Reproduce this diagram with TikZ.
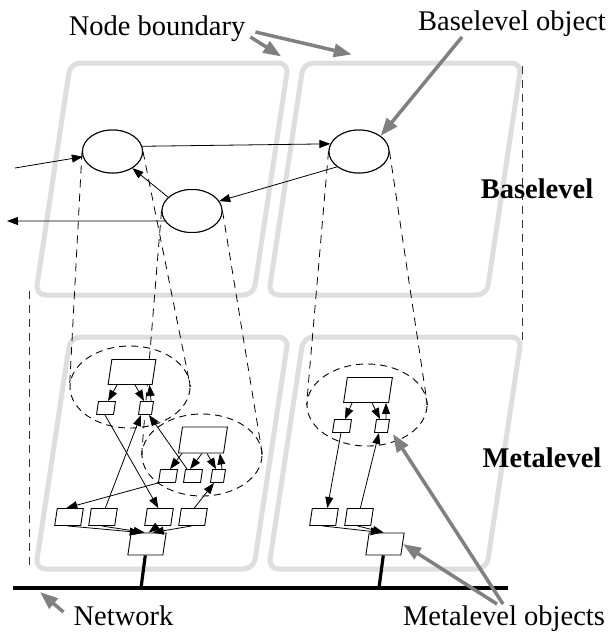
\documentclass[tikz,border=0pt]{standalone}
\usepackage{fontspec}
\setmainfont{Liberation Serif}
\usetikzlibrary{arrows.meta, calc}
\usetikzlibrary{shapes.geometric}
\definecolor{boundgray}{RGB}{222,222,222}
\definecolor{pointgray}{RGB}{128,128,128}
\tikzstyle{panel} = [draw=boundgray, line width=5, rounded corners=10,
    xslant=0.15, minimum width=218, minimum height=232, inner sep=0]
\tikzstyle{baseobj} = [draw, ellipse, fill=white, line width=1,
    minimum width=60, minimum height=43, inner sep=0]
\tikzstyle{metagroup} = [draw, ellipse, dash pattern=on 7pt off 5pt,
    line width=0.9, minimum width=120, minimum height=82, inner sep=0]
\tikzstyle{metaobj} = [draw, fill=white, xslant=0.15, line width=0.9, inner sep=0]
\tikzstyle{metabig} = [metaobj, minimum width=44, minimum height=25]
\tikzstyle{metasmall} = [metaobj, minimum width=17, minimum height=13]
\tikzstyle{metanarrow} = [metaobj, minimum width=13, minimum height=13]
\tikzstyle{metarow} = [metaobj, minimum width=26, minimum height=17]
\tikzstyle{metahub} = [metaobj, minimum width=35, minimum height=22]
\tikzstyle{link} = [-{Triangle[length=11pt,width=8pt]}, line width=0.8]
\tikzstyle{proj} = [dash pattern=on 8pt off 6pt, line width=0.8]
\tikzstyle{pointer} = [-{Triangle[length=18pt,width=13pt]}, draw=pointgray,
    line width=3.5]
\tikzstyle{wire} = [line width=3.2]
\tikzstyle{bigtxt} = [font=\fontsize{28.5}{32}\selectfont, inner sep=0]

\begin{document}
\begin{tikzpicture}[x=1pt, y=-1pt]
\useasboundingbox (0,0) rectangle (611,635);

%%% node boundaries
\node[panel] (PUL) at (162,179) {};
\node[panel] (PUR) at (395,179) {};
\node[panel] (PLL) at (162,453) {};
\node[panel] (PLR) at (395,453) {};

\draw[proj, line width=1.2, black!80] ($(PUL.south west)+(-3,-7)$) -- ($(PLL.south west)+(-3,-5)$);
\draw[proj, line width=1.2, black!80] ($(PUR.north east)+(-2,5)$) -- ($(PLR.north east)+(-2,7)$);

%%% metalevel groups
\node[metagroup] (G1) at (130,387) {};
\node[metagroup] (G2) at (202,455) {};
\node[metagroup] (G3) at (367,405) {};

%%% baselevel objects
\node[baseobj] (E1) at (112.5,151.5) {};
\node[baseobj] (E2) at (359,151.5) {};
\node[baseobj] (E3) at (192,211) {};

\draw[proj] (E1.west) -- (G1.west);
\draw[proj] (E1.east) -- (G1.east);
\draw[proj] (E3.west) -- (G2.west);
\draw[proj] (E3.east) -- (G2.east);
\draw[proj] (E2.west) -- (G3.west);
\draw[proj] (E2.east) -- (G3.east);

\node[baseobj] at (E1) {};
\node[baseobj] at (E2) {};
\node[baseobj] at (E3) {};

\coordinate (inL) at (15,168);
\coordinate (outL) at (7,221);
\draw[link] (inL) -- (E1.190);
\draw[link] (E1.10) -- (E2.165);
\draw[link] (E2.-145) -- (E3.20);
\draw[link] (E3.150) -- (E1.-40);
\draw[link] (E3.-160) -- (outL);

%%% metalevel objects, left node
\node[metabig] (M1) at (132,372) {};
\node[metasmall] (m1a) at (106,408) {};
\node[metanarrow] (m1b) at (146,408) {};
\node[metabig, minimum width=45, minimum height=26] (M2) at (203,440) {};
\node[metasmall] (m2a) at (168,476) {};
\node[metasmall] (m2b) at (193,476) {};
\node[metanarrow] (m2c) at (218,476) {};
\node[metarow] (b1) at (69,517) {};
\node[metarow] (b2) at (103,517) {};
\node[metarow] (b3) at (159,517) {};
\node[metarow] (b4) at (193,517) {};
\node[metahub] (B1) at (147,544) {};

\draw[link] ([xshift=-13pt]M1.south) -- ([xshift=1pt]m1a.north);
\draw[link] ([xshift=5pt]M1.south) -- ([xshift=-3pt]m1b.north);
\draw[link] ([xshift=4pt]m1b.north) -- ([xshift=-3pt]M1.south east);
\draw[link] ([xshift=-19pt]M2.south) -- ([xshift=1pt]m2a.north);
\draw[link] ([xshift=1pt]M2.south) -- ([xshift=-4pt]m2b.north);
\draw[link] ([xshift=6pt]M2.south) -- ([xshift=-3pt]m2c.north);
\draw[link] ([xshift=3pt]m2c.north) -- ([xshift=-4pt]M2.south east);

\draw[link] (m1a.south) -- ([xshift=-2pt]b3.north);
\draw[link] ([xshift=1pt]b2.north) -- ([xshift=-4pt]m1b.south);
\draw[link] ([xshift=-7pt]m2b.north) -- ([xshift=4pt]m1b.south);
\draw[link] (m2a.south west) -- ([xshift=-4pt]b1.north);
\draw[link] (b4.north) -- ([xshift=-3pt]m2c.south);

\draw[link] (b1.south) -- ([xshift=-8pt]B1.north);
\draw[link] (b2.south) -- ([xshift=-4pt]B1.north);
\draw[link] (b3.south) -- (B1.north);
\draw[link] (b4.south) -- ([xshift=4pt]B1.north);

%%% metalevel objects, right node
\node[metabig, minimum width=45] (M3) at (368,390) {};
\node[metasmall] (m3a) at (342,426) {};
\node[metanarrow] (m3b) at (382,426) {};
\node[metarow] (r1) at (324,517) {};
\node[metarow] (r2) at (359,517) {};
\node[metahub] (B2) at (385,544) {};

\draw[link] ([xshift=-14pt]M3.south) -- ([xshift=2pt]m3a.north);
\draw[link] ([xshift=6pt]M3.south) -- ([xshift=-3pt]m3b.north);
\draw[link] ([xshift=3pt]m3b.north) -- ([xshift=-3pt]M3.south east);
\draw[link] (m3a.south) -- ([xshift=2pt]r1.north);
\draw[link] (r2.north) -- ([xshift=-2pt]m3b.south);
\draw[link] (r1.south) -- ([xshift=-5pt]B2.north);
\draw[link] (r2.south) -- ([xshift=-3pt]B2.north);

%%% network
\coordinate (netL) at (13,588);
\coordinate (netR) at (508,588);
\coordinate (tapL) at (141,588);
\coordinate (tapR) at (379,588);
\draw[wire] (netL) -- (netR);
\draw[wire] (B1.south) -- (tapL);
\draw[wire] (B2.south) -- (tapR);

%%% labels
\node[bigtxt, anchor=base] (nblabel) at (157,35) {Node boundary};
\node[bigtxt, anchor=base] (bolabel) at (512,30) {Baselevel object};
\node[bigtxt, anchor=base] (bllabel) at (537,198) {\bfseries Baselevel};
\node[bigtxt, anchor=base] (mllabel) at (542,467) {\bfseries Metalevel};
\node[bigtxt, anchor=base] (netlabel) at (123.5,625) {Network};
\node[bigtxt, anchor=base] (molabel) at (504,625) {Metalevel objects};

\draw[pointer] ($(nblabel.base east)+(5,2)$) -- ($(PUL.north east)+(-10,-4)$);
\draw[pointer] ($(nblabel.base east)+(10,-3)$) -- ($(PUR.north)+(-61,-6)$);
\draw[pointer] ($(bolabel.base)+(-50,7)$) -- (E2.north east);
\draw[pointer] ($(netlabel.base west)+(-10,-13)$) -- ($(netL)+(27,4)$);
\draw[pointer] ($(molabel.north)+(-1,-1)$) -- ($(m3b.south east)+(5,1)$);
\draw[pointer] ($(molabel.north)+(-7,-1)$) -- (B2.east);

\end{tikzpicture}
\end{document}
